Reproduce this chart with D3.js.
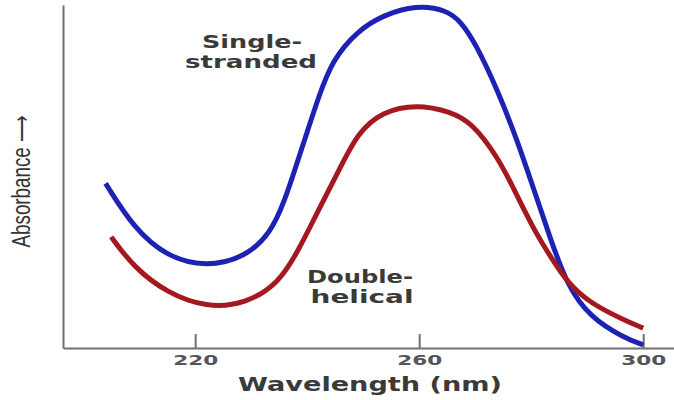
<!DOCTYPE html>
<html lang="en">
<head>
    <meta charset="UTF-8">
    <script src="https://d3js.org/d3.v7.min.js"></script>
    <title>Absorbance spectrum</title>
    <style>
        body { margin: 0; background: #fff; }
        .lbl { font-family: "DejaVu Sans", sans-serif; font-weight: bold; fill: #3a3a3a; }
    </style>
</head>
<body>
    <div id="chart"></div>
    <script>
// values (wavelength in nm, absorbance in arbitrary units 0..1)
var singleNm = [204, 209, 215, 222, 229, 233.5, 236, 238, 240, 242, 244.5, 249, 253.5, 259.5, 265, 267.5, 270, 274, 277.5, 280.5, 283.5, 286.5, 290.5, 296.5, 300];
var singleAbs = [0.48, 0.35, 0.265, 0.236, 0.265, 0.335, 0.43, 0.53, 0.63, 0.73, 0.84, 0.925, 0.97, 1.0, 0.985, 0.95, 0.89, 0.752, 0.606, 0.461, 0.315, 0.18, 0.09, 0.03, 0.009];

var doubleNm = [205, 209, 215, 222, 229, 235, 238.5, 242, 246, 249, 253.5, 259.5, 265.5, 269.5, 274, 277, 280.5, 283.5, 286.5, 290.5, 296.5, 300];
var doubleAbs = [0.324, 0.236, 0.16, 0.118, 0.128, 0.19, 0.286, 0.402, 0.528, 0.627, 0.69, 0.71, 0.69, 0.656, 0.557, 0.461, 0.344, 0.265, 0.19, 0.131, 0.082, 0.058];

var tickValues = [220, 260, 300];
var xDomain = [196.4, 305.5];
var xTitle = 'Wavelength (nm)';
var yTitle = 'Absorbance \u27F6';

var width = 674;
var height = 400;

var svg = d3.select('#chart')
            .append('svg')
                .attr('width', width)
                .attr('height', height);

var x = d3.scaleLinear().domain(xDomain).range([63, 674]);
var y = d3.scaleLinear().domain([0, 1]).range([348, 5]);

// axes
var xAxis = svg.append('g')
            .attr('transform', 'translate(0,' + y(0) + ')')
            .call(d3.axisBottom(x)
                .tickValues(tickValues)
                .tickSizeInner(-14)
                .tickSizeOuter(0)
                .tickPadding(0));

xAxis.select('.domain').attr('stroke', '#707070').attr('stroke-width', 2);
xAxis.selectAll('.tick line').attr('stroke', '#707070').attr('stroke-width', 2);
xAxis.selectAll('.tick text')
    .attr('class', 'lbl')
    .attr('y', 17)
    .attr('dy', 0)
    .style('font-size', '14px')
    .style('fill', '#555')
    .attr('textLength', 45)
    .attr('lengthAdjust', 'spacingAndGlyphs');

var yAxis = svg.append('g')
            .attr('transform', 'translate(' + x(xDomain[0]) + ',0)')
            .call(d3.axisLeft(y).ticks(0).tickSizeOuter(0));
yAxis.select('.domain').attr('stroke', '#707070').attr('stroke-width', 2);

// titles
svg.append('text')
    .attr('class', 'lbl')
    .attr('x', 370)
    .attr('y', 391)
    .attr('text-anchor', 'middle')
    .style('font-size', '19px')
    .attr('textLength', 264)
    .attr('lengthAdjust', 'spacingAndGlyphs')
    .text(xTitle);

// image is stretched sideways, so the rotated title gets wide glyphs
svg.append('text')
    .attr('transform', 'translate(30,181) scale(1.4,1) rotate(-90)')
    .attr('text-anchor', 'middle')
    .style('font-family', '"Liberation Sans", sans-serif')
    .style('font-size', '18px')
    .style('fill', '#333')
    .attr('textLength', 133)
    .attr('lengthAdjust', 'spacingAndGlyphs')
    .text(yTitle);

// curves
var line = d3.line()
            .x(function(d) { return x(d[0]); })
            .y(function(d) { return y(d[1]); })
            .curve(d3.curveBasis);

var series = [
    { nm: singleNm, abs: singleAbs, color: '#1e22b4' },
    { nm: doubleNm, abs: doubleAbs, color: '#a3191f' }
];

series.forEach(function(s) {
    svg.append('path')
        .datum(d3.zip(s.nm, s.abs))
        .attr('d', line)
        .attr('fill', 'none')
        .attr('stroke', s.color)
        .attr('stroke-width', 5);
});

// curve labels, two lines each
var notes = [
    { lines: ['Single-', 'stranded'], x: [252, 251], y: [48, 68], len: [100, 132] },
    { lines: ['Double-', 'helical'], x: [360, 362], y: [283, 303], len: [106, 103] }
];

var note = svg.selectAll('.note')
    .data(notes)
    .enter()
    .append('text')
        .attr('class', 'lbl note')
        .attr('text-anchor', 'middle')
        .style('font-size', '17px');

note.selectAll('tspan')
    .data(function(d) {
        return d.lines.map(function(t, i) {
            return { text: t, x: d.x[i], y: d.y[i], len: d.len[i] };
        });
    })
    .enter()
    .append('tspan')
        .attr('x', function(d) { return d.x; })
        .attr('y', function(d) { return d.y; })
        .attr('textLength', function(d) { return d.len; })
        .attr('lengthAdjust', 'spacingAndGlyphs')
        .text(function(d) { return d.text; });
    </script>
</body>
</html>
